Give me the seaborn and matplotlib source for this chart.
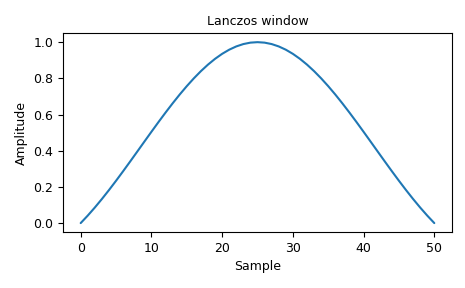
import matplotlib
matplotlib.use("Agg")
import matplotlib.pyplot as plt
import seaborn as sns

half = [0.0, 0.04156, 0.08604, 0.13316, 0.18255, 0.23387, 0.28671, 0.34064,
        0.39523, 0.45003, 0.50455, 0.55835, 0.61093, 0.66184, 0.71062,
        0.75683, 0.80005, 0.83987, 0.87593, 0.90792, 0.93549, 0.95841,
        0.97647, 0.98951, 0.99737]
amplitude = half + [1.0] + half[::-1]
samples = list(range(len(amplitude)))

sns.set_style("ticks", rc={"axes.edgecolor": "black", "text.color": "black",
                           "axes.labelcolor": "black", "xtick.color": "black",
                           "ytick.color": "black"})
plt.rcParams['font.family'] = ['DejaVu Sans']
fig, ax = plt.subplots(figsize=(4.65, 2.88), dpi=100)
sns.lineplot(x=samples, y=amplitude, ax=ax, color="#1f77b4", linewidth=1.5)
ax.set_title("Lanczos window", fontsize=9)
ax.set_xlabel("Sample", fontsize=9)
ax.set_ylabel("Amplitude", fontsize=9)
ax.tick_params(labelsize=9, length=3.5, width=0.8)
ax.set_xticks([0, 10, 20, 30, 40, 50])
ax.set_yticks([0.0, 0.2, 0.4, 0.6, 0.8, 1.0])
for s in ax.spines.values():
    s.set_visible(True)
    s.set_linewidth(0.8)
fig.subplots_adjust(left=0.1355, right=0.972, top=0.885, bottom=0.194)
fig.savefig("out.png", dpi=100)
